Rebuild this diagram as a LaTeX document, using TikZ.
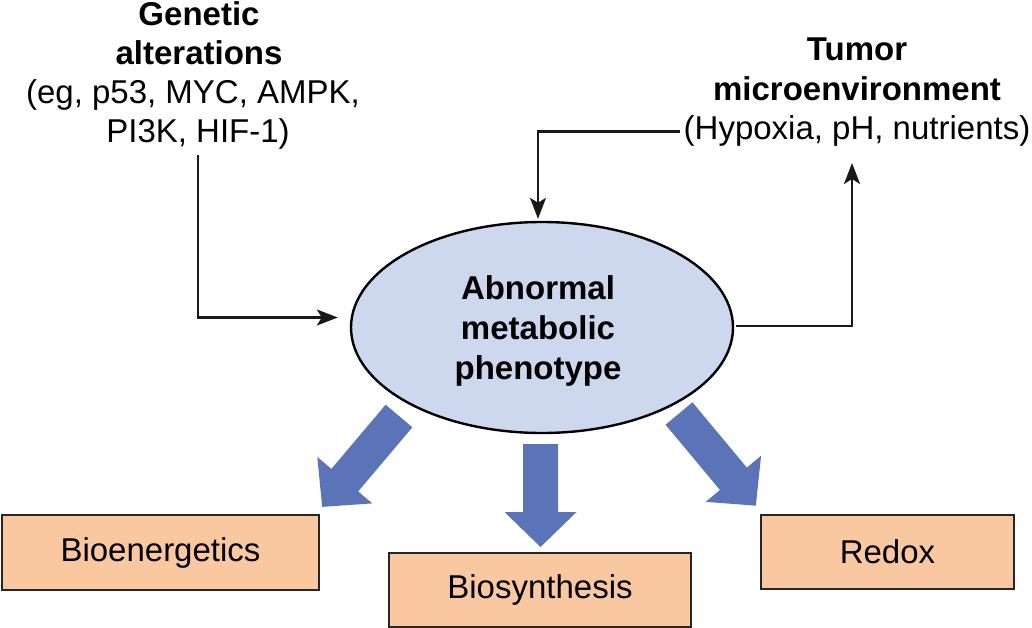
\documentclass[tikz,border=0pt]{standalone}
\usepackage{fontspec}
\setmainfont{Liberation Sans}
\usetikzlibrary{arrows.meta,shapes.geometric}
\definecolor{ellfill}{RGB}{205,216,238}
\definecolor{boxfill}{RGB}{250,200,160}
\definecolor{fatblue}{RGB}{91,115,183}
\newcommand\fatarrow[4]{%
  \begin{scope}[shift={(#1,#2)},rotate=#3]
    \fill[fatblue] (0,-17.5) -- ({#4-35},-17.5) -- ({#4-35},-36) -- (#4,0) -- ({#4-35},36) -- ({#4-35},17.5) -- (0,17.5) -- cycle;
  \end{scope}}
\begin{document}
\begin{tikzpicture}[x=1pt,y=-1pt,
  txt/.style={font=\fontsize{33}{39}\selectfont, anchor=base, inner sep=0pt},
  btxt/.style={font=\fontsize{33}{39}\selectfont\bfseries, anchor=base, inner sep=0pt},
  conn/.style={line width=2.2pt, draw=black!90, -{Stealth[length=21pt,width=16pt,inset=5pt]}},
  outbox/.style={draw=black!85, line width=1.8pt, fill=boxfill, inner sep=0pt,
    font=\fontsize{33}{39}\selectfont},
  metab/.style={ellipse, draw=black, line width=2.4pt, fill=ellfill, inner sep=0pt,
    minimum width=382pt, minimum height=211pt}]
\useasboundingbox (0,0) rectangle (1032,628);

% ellipse
\node[metab] (amp) at (542,327.5) {};
\node[btxt] (e1) at (538,299) {Abnormal};
\node[btxt] (e2) at (538,339) {metabolic};
\node[btxt] (e3) at (538,379) {phenotype};

% genetic alterations
\node[btxt] (g1) at (199,26) {Genetic};
\node[btxt] (g2) at (199,65) {alterations};
\node[txt] (g3) at (193,104) {(eg, p53, MYC, AMPK,};
\node[txt] (g4) at (198,143) {PI3K, HIF-1)};

% tumor microenvironment
\node[btxt] (t1) at (857,61) {Tumor};
\node[btxt] (t2) at (857,101) {microenvironment};
\node[txt] (t3) at (857,140) {(Hypoxia, pH, nutrients)};
\coordinate (tin) at (852,163);

% output boxes
\node[outbox, minimum width=317pt, minimum height=75pt] (bio) at (160.5,552.5) {Bioenergetics};
\node[outbox, minimum width=302pt, minimum height=74pt] (syn) at (540,590) {Biosynthesis};
\node[outbox, minimum width=253pt, minimum height=74pt] (red) at (887.5,552) {Redox};

% connectors
\draw[conn] ([yshift=-5pt]g4.south) |- ([xshift=-12pt,yshift=10pt]amp.west);
\draw[conn] ([xshift=-3pt]t3.west) -| ([xshift=-4pt,yshift=2pt]amp.north);
\draw[conn] ([xshift=2pt,yshift=1.5pt]amp.east) -| (tin);

% fat arrows
\fatarrow{399}{416}{-130.2}{119}
\fatarrow{540.5}{444}{-90}{103}
\fatarrow{679}{413.5}{-50.2}{120}
\end{tikzpicture}
\end{document}
